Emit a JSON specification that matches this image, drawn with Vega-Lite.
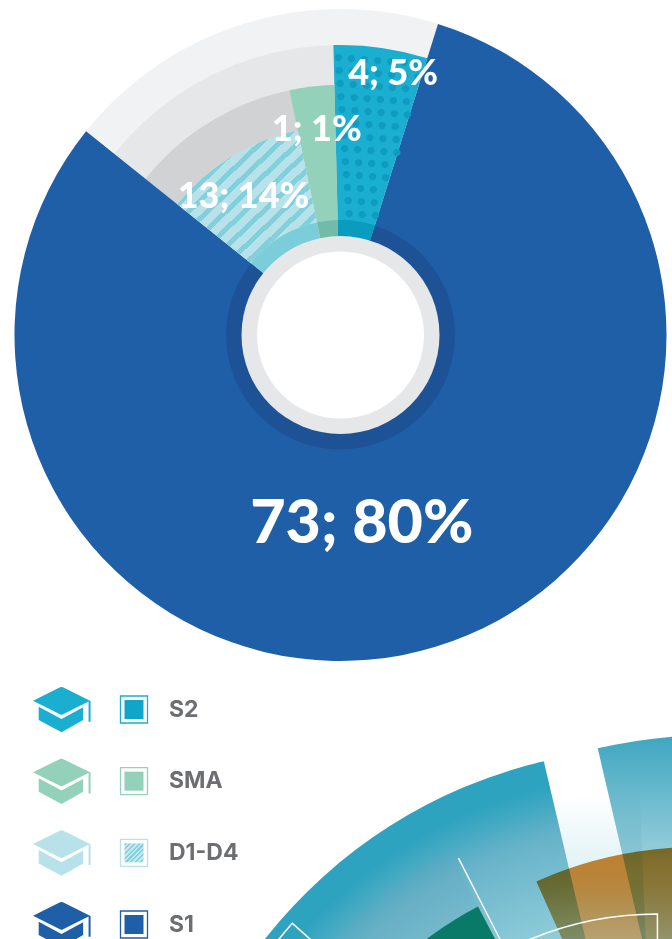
{
"$schema":"https://vega.github.io/schema/vega-lite/v6.json",
"width":672,"height":939,"padding":0,"autosize":{"type":"none"},"background":"white",
"config":{"view":{"stroke":null}},
"datasets":{
"tiers":[{"tier":"t1","start":-51.3,"end":17.4,"outer":326},{"tier":"t2","start":-51.3,"end":17.4,"outer":290},{"tier":"t3","start":-51.3,"end":17.4,"outer":250}],
"sectors":[
{"level":"S1","count":73,"share":80,"label":"73; 80%","start":17.4,"end":308.7,"outer":326,"band":114.5,"labelAngle":173.6,"labelRadius":190.7},
{"level":"S2","count":4,"share":5,"label":"4; 5%","start":-1.4,"end":17.4,"outer":290,"band":115,"labelAngle":11.4,"labelRadius":266.3},
{"level":"SMA","count":1,"share":1,"label":"1; 1%","start":-11.8,"end":-1.4,"outer":250,"band":115,"labelAngle":-6.6,"labelRadius":206.4},
{"level":"D1-D4","count":13,"share":14,"label":"13; 14%","start":-51.3,"end":-11.8,"outer":209,"band":115,"labelAngle":-35.1,"labelRadius":168.7}],
"hub":[{"part":"rim","start":0,"end":360,"outer":99},{"part":"hole","start":0,"end":360,"outer":83.5}],
"dots":[
{"t":-0.45,"r":278.3},{"t":2.25,"r":277.5},{"t":4.96,"r":277.3},{"t":7.67,"r":277.8},{"t":10.37,"r":278.9},{"t":13.04,"r":280.5},{"t":15.67,"r":282.8},
{"t":-0.28,"r":265.3},{"t":2.56,"r":264.6},{"t":5.4,"r":264.5},{"t":8.24,"r":265},{"t":11.07,"r":266.3},{"t":13.85,"r":268.1},{"t":16.6,"r":270.6},
{"t":-0.09,"r":252.3},{"t":2.89,"r":251.6},{"t":5.89,"r":251.6},{"t":8.87,"r":252.3},{"t":11.83,"r":253.7},{"t":14.75,"r":255.7},
{"t":0.12,"r":239.3},{"t":3.27,"r":238.7},{"t":6.42,"r":238.8},{"t":9.56,"r":239.6},{"t":12.67,"r":241.2},{"t":15.73,"r":243.4},
{"t":0.35,"r":226.3},{"t":3.68,"r":225.8},{"t":7.01,"r":226},{"t":10.33,"r":227},{"t":13.6,"r":228.7},{"t":16.82,"r":231.2},
{"t":0.62,"r":213.3},{"t":4.15,"r":212.9},{"t":7.68,"r":213.2},{"t":11.19,"r":214.4},{"t":14.65,"r":216.3},
{"t":0.92,"r":200.3},{"t":4.68,"r":200},{"t":8.43,"r":200.5},{"t":12.16,"r":201.8},{"t":15.81,"r":204},
{"t":1.25,"r":187.3},{"t":5.27,"r":187.1},{"t":9.29,"r":187.8},{"t":13.25,"r":189.3},{"t":17.13,"r":191.8},
{"t":1.64,"r":174.4},{"t":5.96,"r":174.2},{"t":10.26,"r":175.1},{"t":14.5,"r":176.9},
{"t":2.09,"r":161.4},{"t":6.76,"r":161.4},{"t":11.39,"r":162.5},{"t":15.94,"r":164.6},
{"t":2.63,"r":148.5},{"t":7.7,"r":148.6},{"t":12.71,"r":150},
{"t":3.26,"r":135.5},{"t":8.8,"r":135.9},{"t":14.27,"r":137.5},
{"t":4.02,"r":122.6},{"t":10.14,"r":123.2},{"t":16.13,"r":125.2}],
"legend":[{"level":"S2"},{"level":"SMA"},{"level":"D1-D4"},{"level":"S1"}],
"next":[
{"part":"teal","start":-90,"end":-13.2,"outer":500},
{"part":"tier","start":-45,"end":-27.8,"outer":447},
{"part":"pale","start":-14,"end":-2.3,"outer":456},
{"part":"teal2","start":-13.1,"end":10,"outer":513},
{"part":"green","start":-90,"end":-27.8,"outer":386},
{"part":"rule","start":-27.2,"end":-27,"outer":438,"inner":280},
{"part":"outline1","start":-75,"end":-48.4,"outer":489,"inner":300},
{"part":"outline2","start":-30,"end":-0.1,"outer":334,"inner":120},
{"part":"orange","start":-24.2,"end":12,"outer":392}]
},
"layer":[
{"data":{"name":"next"},"transform":[{"filter":"datum.part==='pale'"}],
 "mark":{"type":"arc","x":658,"y":1248,"fill":{"gradient":"linear","x1":0,"y1":0,"x2":0,"y2":1,"stops":[{"offset":0,"color":"#ffffff"},{"offset":0.25,"color":"#d3ecf1"},{"offset":1,"color":"#c5e6ec"}]}},
 "encoding":{"theta":{"field":"start","type":"quantitative","stack":null,"scale":{"domain":[0,360],"range":[0,6.28319]}},"theta2":{"field":"end"},"radius":{"field":"outer","type":"quantitative","scale":{"type":"linear","domain":[0,1000],"range":[0,1000]}}}},
{"data":{"name":"next"},"transform":[{"filter":"datum.part==='teal'"}],
 "mark":{"type":"arc","x":658,"y":1248,"fill":{"gradient":"radial","x1":1,"y1":1,"r1":0,"x2":1,"y2":1,"r2":1,"stops":[{"offset":0,"color":"#c5e6ec"},{"offset":0.68,"color":"#8ccbd8"},{"offset":0.86,"color":"#68b3c9"},{"offset":0.96,"color":"#2ea3bf"},{"offset":1,"color":"#2ea3bf"}]}},
 "encoding":{"theta":{"field":"start","type":"quantitative","stack":null},"theta2":{"field":"end"},"radius":{"field":"outer","type":"quantitative"}}},
{"data":{"name":"next"},"transform":[{"filter":"datum.part==='tier'"}],
 "mark":{"type":"arc","x":658,"y":1248,"color":"#6aa4bb","opacity":0.2},
 "encoding":{"theta":{"field":"start","type":"quantitative","stack":null},"theta2":{"field":"end"},"radius":{"field":"outer","type":"quantitative"}}},
{"data":{"name":"next"},"transform":[{"filter":"datum.part==='teal2'"}],
 "mark":{"type":"arc","x":714,"y":1248,"blend":"multiply","fill":{"gradient":"linear","x1":0,"y1":0,"x2":0,"y2":1,"stops":[{"offset":0,"color":"#3ea6c0"},{"offset":0.26,"color":"#a0d2de"},{"offset":1,"color":"#cfe9ef"}]}},
 "encoding":{"theta":{"field":"start","type":"quantitative","stack":null},"theta2":{"field":"end"},"radius":{"field":"outer","type":"quantitative"}}},
{"data":{"name":"next"},"transform":[{"filter":"datum.part==='green'"}],
 "mark":{"type":"arc","x":658,"y":1248,"color":"#0a7a68"},
 "encoding":{"theta":{"field":"start","type":"quantitative","stack":null},"theta2":{"field":"end"},"radius":{"field":"outer","type":"quantitative"}}},
{"data":{"name":"next"},"transform":[{"filter":"datum.part==='orange'"}],
 "mark":{"type":"arc","x":697,"y":1239,"blend":"multiply","fill":{"gradient":"linear","x1":0,"y1":0,"x2":0,"y2":1,"stops":[{"offset":0,"color":"#d0832f"},{"offset":0.1,"color":"#d68f3f"},{"offset":0.25,"color":"#dfb37f"},{"offset":1,"color":"#e5c9a8"}]}},
 "encoding":{"theta":{"field":"start","type":"quantitative","stack":null},"theta2":{"field":"end"},"radius":{"field":"outer","type":"quantitative"}}},
{"data":{"name":"next"},"transform":[{"filter":"datum.part==='rule'"}],
 "mark":{"type":"arc","x":658,"y":1248,"color":"#ffffff"},
 "encoding":{"theta":{"field":"start","type":"quantitative","stack":null},"theta2":{"field":"end"},"radius":{"field":"outer","type":"quantitative"},"radius2":{"field":"inner"}}},
{"data":{"name":"next"},"transform":[{"filter":"datum.part==='outline1'||datum.part==='outline2'"}],
 "mark":{"type":"arc","x":658,"y":1248,"filled":false,"stroke":"#ffffff","strokeWidth":1.5,"opacity":1},
 "encoding":{"theta":{"field":"start","type":"quantitative","stack":null},"theta2":{"field":"end"},"radius":{"field":"outer","type":"quantitative"},"radius2":{"field":"inner"}}},

{"data":{"name":"tiers"},
 "mark":{"type":"arc","x":340.5,"y":335},
 "encoding":{"theta":{"field":"start","type":"quantitative","stack":null},"theta2":{"field":"end"},"radius":{"field":"outer","type":"quantitative"},
  "color":{"field":"tier","type":"nominal","legend":null,"scale":{"domain":["t1","t2","t3"],"range":["#f1f2f4","#e6e7e8","#d1d2d4"]}},"order":{"field":"outer","sort":"descending"}}},
{"data":{"name":"sectors"},
 "mark":{"type":"arc","x":340.5,"y":335},
 "encoding":{"theta":{"field":"start","type":"quantitative","stack":null},"theta2":{"field":"end"},"radius":{"field":"outer","type":"quantitative"},
  "color":{"field":"level","type":"nominal","legend":null,"scale":{"domain":["S2","SMA","D1-D4","S1"],"range":["#1aaed0","#93d1bb","#b8e2ea","#1f5fa8"]}}}},
{"data":{"name":"sectors"},"transform":[{"filter":"datum.level==='D1-D4'"}],
 "mark":{"type":"arc","x":340.5,"y":335,"fill":{"gradient":"linear","x1":0,"y1":0,"x2":1,"y2":1,"stops":[
 {"offset":0,"color":"#82d0dc"},{"offset":0.026,"color":"#82d0dc"},{"offset":0.026,"color":"#b8e2ea"},{"offset":0.0667,"color":"#b8e2ea"},
 {"offset":0.0667,"color":"#82d0dc"},{"offset":0.0927,"color":"#82d0dc"},{"offset":0.0927,"color":"#b8e2ea"},{"offset":0.1333,"color":"#b8e2ea"},
 {"offset":0.1333,"color":"#82d0dc"},{"offset":0.1593,"color":"#82d0dc"},{"offset":0.1593,"color":"#b8e2ea"},{"offset":0.2,"color":"#b8e2ea"},
 {"offset":0.2,"color":"#82d0dc"},{"offset":0.226,"color":"#82d0dc"},{"offset":0.226,"color":"#b8e2ea"},{"offset":0.2667,"color":"#b8e2ea"},
 {"offset":0.2667,"color":"#82d0dc"},{"offset":0.2927,"color":"#82d0dc"},{"offset":0.2927,"color":"#b8e2ea"},{"offset":0.3333,"color":"#b8e2ea"},
 {"offset":0.3333,"color":"#82d0dc"},{"offset":0.3593,"color":"#82d0dc"},{"offset":0.3593,"color":"#b8e2ea"},{"offset":0.4,"color":"#b8e2ea"},
 {"offset":0.4,"color":"#82d0dc"},{"offset":0.426,"color":"#82d0dc"},{"offset":0.426,"color":"#b8e2ea"},{"offset":0.4667,"color":"#b8e2ea"},
 {"offset":0.4667,"color":"#82d0dc"},{"offset":0.4927,"color":"#82d0dc"},{"offset":0.4927,"color":"#b8e2ea"},{"offset":0.5333,"color":"#b8e2ea"},
 {"offset":0.5333,"color":"#82d0dc"},{"offset":0.5593,"color":"#82d0dc"},{"offset":0.5593,"color":"#b8e2ea"},{"offset":0.6,"color":"#b8e2ea"},
 {"offset":0.6,"color":"#82d0dc"},{"offset":0.626,"color":"#82d0dc"},{"offset":0.626,"color":"#b8e2ea"},{"offset":0.6667,"color":"#b8e2ea"},
 {"offset":0.6667,"color":"#82d0dc"},{"offset":0.6927,"color":"#82d0dc"},{"offset":0.6927,"color":"#b8e2ea"},{"offset":0.7333,"color":"#b8e2ea"},
 {"offset":0.7333,"color":"#82d0dc"},{"offset":0.7593,"color":"#82d0dc"},{"offset":0.7593,"color":"#b8e2ea"},{"offset":0.8,"color":"#b8e2ea"},
 {"offset":0.8,"color":"#82d0dc"},{"offset":0.826,"color":"#82d0dc"},{"offset":0.826,"color":"#b8e2ea"},{"offset":0.8667,"color":"#b8e2ea"},
 {"offset":0.8667,"color":"#82d0dc"},{"offset":0.8927,"color":"#82d0dc"},{"offset":0.8927,"color":"#b8e2ea"},{"offset":0.9333,"color":"#b8e2ea"},
 {"offset":0.9333,"color":"#82d0dc"},{"offset":0.9593,"color":"#82d0dc"},{"offset":0.9593,"color":"#b8e2ea"},{"offset":1,"color":"#b8e2ea"}]}},
 "encoding":{"theta":{"field":"start","type":"quantitative","stack":null},"theta2":{"field":"end"},"radius":{"field":"outer","type":"quantitative"},"radius2":{"field":"band"}}},
{"data":{"name":"dots"},
 "mark":{"type":"text","x":340.5,"y":335,"text":"●","font":"DejaVu Sans","fontSize":9.5,"align":"center","baseline":"middle","color":"#0e9cc2"},
 "encoding":{"theta":{"field":"t","type":"quantitative","stack":null},"radius":{"field":"r","type":"quantitative"}}},
{"data":{"name":"sectors"},
 "mark":{"type":"arc","x":340.5,"y":335},
 "encoding":{"theta":{"field":"start","type":"quantitative","stack":null},"theta2":{"field":"end"},"radius":{"field":"band","type":"quantitative"},
  "color":{"field":"level","type":"nominal","legend":null,"scale":{"domain":["S2","SMA","D1-D4","S1"],"range":["#0a9cbf","#72bba8","#7acdd9","#1d5296"]}}}},
{"data":{"name":"hub"},
 "mark":{"type":"arc","x":340.5,"y":335},
 "encoding":{"theta":{"field":"start","type":"quantitative","stack":null},"theta2":{"field":"end"},"radius":{"field":"outer","type":"quantitative"},
  "color":{"field":"part","type":"nominal","legend":null,"scale":{"domain":["rim","hole"],"range":["#e6e7e9","#ffffff"]}},"order":{"field":"outer","sort":"descending"}}},
{"data":{"name":"sectors"},
 "mark":{"type":"text","x":340.5,"y":335,"font":"Lato","fontWeight":900,"align":"center","baseline":"middle","color":"#ffffff"},
 "encoding":{"theta":{"field":"labelAngle","type":"quantitative","stack":null},"radius":{"field":"labelRadius","type":"quantitative"},"text":{"field":"label"},
  "size":{"field":"level","type":"nominal","legend":null,"scale":{"type":"ordinal","domain":["S1","S2","SMA","D1-D4"],"range":[61,36,36,36]}}}},

{"data":{"name":"legend"},
 "mark":{"type":"point","x":61.5,"filled":true,"opacity":1,"size":3249,"shape":"M-1,-0.31 L-0.05,-0.78 Q0,-0.8 0.05,-0.78 L1,-0.31 L0.02,0.18 Q0,0.19 -0.02,0.18 Z M0.95,-0.31 L1.02,-0.31 L1.02,0.43 L0.95,0.43 Z M-0.8,-0.1 L0,0.33 L0.76,-0.08 L0.76,0.37 L0,0.8 L-0.8,0.37 Z"},
 "encoding":{"y":{"field":"level","type":"nominal","axis":null,"scale":{"type":"point","domain":["S2","SMA","D1-D4","S1"],"range":[709.5,924.5],"padding":0}},
  "color":{"field":"level","type":"nominal","legend":null,"scale":{"domain":["S2","SMA","D1-D4","S1"],"range":["#1aaed0","#93d1bb","#b8e2ea","#1f5fa8"]}}}},
{"data":{"name":"legend"},
 "mark":{"type":"square","x":134,"fill":"#ffffff","size":729,"strokeWidth":1.3,"opacity":1},
 "encoding":{"y":{"field":"level","type":"nominal"},
  "stroke":{"field":"level","type":"nominal","legend":null,"scale":{"domain":["S2","SMA","D1-D4","S1"],"range":["#1aaed0","#93d1bb","#b8e2ea","#1f5fa8"]}}}},
{"data":{"name":"legend"},"transform":[{"filter":"datum.level!=='D1-D4'"}],
 "mark":{"type":"square","x":134,"size":361,"opacity":1,"filled":true},
 "encoding":{"y":{"field":"level","type":"nominal"},
  "color":{"field":"level","type":"nominal","legend":null,"scale":{"domain":["S2","SMA","D1-D4","S1"],"range":["#12a5ca","#93d1bb","#a5dbe5","#1f5fa8"]}}}},
{"data":{"name":"legend"},"transform":[{"filter":"datum.level==='D1-D4'"}],
 "mark":{"type":"square","x":134,"size":361,"opacity":1,"filled":true,"fill":{"gradient":"linear","x1":0,"y1":0,"x2":1,"y2":1,"stops":[
 {"offset":0,"color":"#82d0dc"},{"offset":0.06,"color":"#82d0dc"},{"offset":0.06,"color":"#c5e8ee"},{"offset":0.125,"color":"#c5e8ee"},
 {"offset":0.125,"color":"#82d0dc"},{"offset":0.185,"color":"#82d0dc"},{"offset":0.185,"color":"#c5e8ee"},{"offset":0.25,"color":"#c5e8ee"},
 {"offset":0.25,"color":"#82d0dc"},{"offset":0.31,"color":"#82d0dc"},{"offset":0.31,"color":"#c5e8ee"},{"offset":0.375,"color":"#c5e8ee"},
 {"offset":0.375,"color":"#82d0dc"},{"offset":0.435,"color":"#82d0dc"},{"offset":0.435,"color":"#c5e8ee"},{"offset":0.5,"color":"#c5e8ee"},
 {"offset":0.5,"color":"#82d0dc"},{"offset":0.56,"color":"#82d0dc"},{"offset":0.56,"color":"#c5e8ee"},{"offset":0.625,"color":"#c5e8ee"},
 {"offset":0.625,"color":"#82d0dc"},{"offset":0.685,"color":"#82d0dc"},{"offset":0.685,"color":"#c5e8ee"},{"offset":0.75,"color":"#c5e8ee"},
 {"offset":0.75,"color":"#82d0dc"},{"offset":0.81,"color":"#82d0dc"},{"offset":0.81,"color":"#c5e8ee"},{"offset":0.875,"color":"#c5e8ee"},
 {"offset":0.875,"color":"#82d0dc"},{"offset":0.935,"color":"#82d0dc"},{"offset":0.935,"color":"#c5e8ee"},{"offset":1,"color":"#c5e8ee"}]}},
 "encoding":{"y":{"field":"level","type":"nominal"}}},
{"data":{"name":"legend"},
 "mark":{"type":"text","x":169,"align":"left","baseline":"middle","font":"Inter","fontWeight":700,"fontSize":23,"color":"#6d6e71"},
 "encoding":{"y":{"field":"level","type":"nominal"},"text":{"field":"level"}}}
],
"resolve":{"scale":{"color":"independent","stroke":"independent","size":"independent"}}
}
